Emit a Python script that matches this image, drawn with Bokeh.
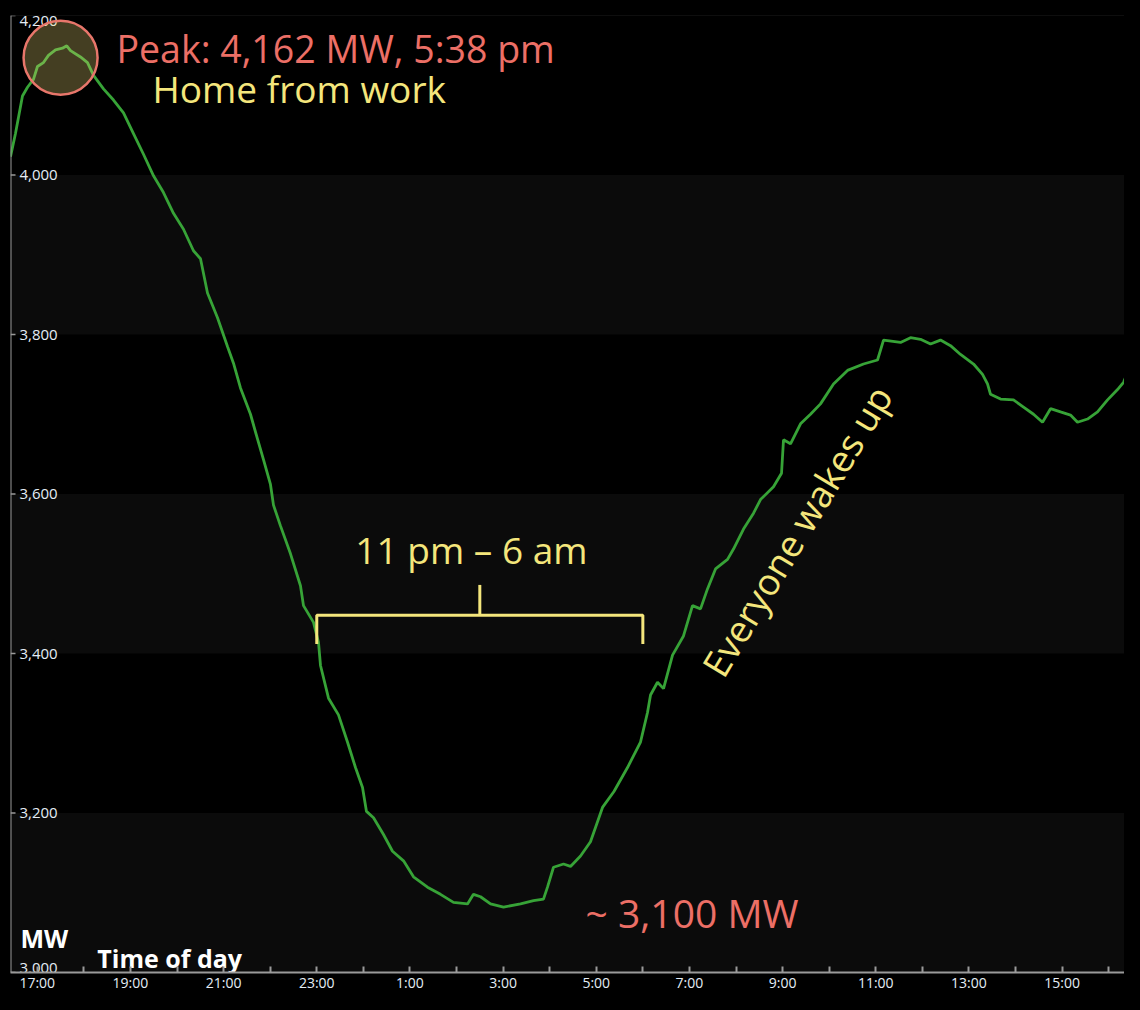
import re
from bokeh.plotting import figure
from bokeh.models import Range1d, FixedTicker, BoxAnnotation, Span
from bokeh.core.properties import value
from bokeh.embed import file_html
from bokeh.resources import INLINE

# ---- data (hours since 17:00, electricity demand in MW) ----
hours_since_17 = [-0.575, -0.468, -0.318, -0.210, -0.082, 0.004, 0.133, 0.240, 0.391, 0.541, 0.633, 0.713,
                  0.927, 1.078, 1.207, 1.421, 1.636, 1.851, 2.065, 2.280, 2.495, 2.709, 2.924, 3.139,
                  3.353, 3.504, 3.654, 3.869, 4.083, 4.212, 4.362, 4.577, 4.727, 4.856, 5.006, 5.071,
                  5.221, 5.436, 5.650, 5.715, 5.930, 6.037, 6.080, 6.252, 6.466, 6.659, 6.831, 6.982,
                  7.067, 7.218, 7.432, 7.626, 7.862, 8.076, 8.377, 8.656, 8.935, 9.236, 9.364, 9.515,
                  9.730, 10.009, 10.374, 10.653, 10.867, 10.953, 11.082, 11.297, 11.447, 11.662, 11.876, 12.027,
                  12.134, 12.380, 12.671, 12.950, 13.100, 13.165, 13.315, 13.444, 13.637, 13.873, 14.066, 14.238,
                  14.388, 14.560, 14.818, 14.946, 15.161, 15.376, 15.526, 15.805, 15.977, 16.020, 16.170, 16.385,
                  16.599, 16.814, 17.093, 17.394, 17.737, 18.038, 18.167, 18.532, 18.746, 18.961, 19.176, 19.390,
                  19.605, 19.820, 20.099, 20.292, 20.399, 20.464, 20.679, 20.957, 21.172, 21.387, 21.580, 21.752,
                  21.966, 22.181, 22.331, 22.546, 22.761, 22.976, 23.190, 23.319, 23.425]
load_mw = [4023, 4052, 4099, 4110, 4120, 4136, 4141, 4150, 4157, 4159, 4162, 4156,
           4148, 4141, 4125, 4108, 4094, 4078, 4052, 4026, 3999, 3978, 3952, 3932,
           3905, 3895, 3852, 3821, 3785, 3764, 3733, 3700, 3669, 3643, 3612, 3586,
           3560, 3525, 3485, 3460, 3439, 3414, 3385, 3344, 3323, 3289, 3257, 3232,
           3202, 3194, 3173, 3152, 3140, 3120, 3107, 3098, 3088, 3086, 3098, 3095,
           3086, 3082, 3086, 3090, 3092, 3107, 3132, 3136, 3133, 3146, 3164, 3189,
           3207, 3227, 3257, 3289, 3326, 3348, 3364, 3356, 3398, 3422, 3460, 3456,
           3481, 3506, 3518, 3531, 3556, 3576, 3593, 3609, 3626, 3668, 3663, 3688,
           3700, 3713, 3738, 3755, 3763, 3768, 3793, 3790, 3796, 3794, 3788, 3793,
           3786, 3775, 3763, 3750, 3738, 3725, 3719, 3718, 3709, 3700, 3690, 3707,
           3703, 3699, 3690, 3694, 3703, 3718, 3731, 3740, 3755]
assert len(hours_since_17) == len(load_mw)

x_tick_hours = [0, 2, 4, 6, 8, 10, 12, 14, 16, 18, 20, 22]
x_tick_labels = ["17:00", "19:00", "21:00", "23:00", "1:00", "3:00", "5:00",
                 "7:00", "9:00", "11:00", "13:00", "15:00"]
x_minor_hours = [1, 3, 5, 7, 9, 11, 13, 15, 17, 19, 21, 23]

y_tick_values = [3200, 3400, 3600, 3800, 4000]
y_tick_labels = ["3,200", "3,400", "3,600", "3,800", "4,000"]
y_bottom_value, y_bottom_label = 3000, "3,000"
y_top_value, y_top_label = 4200, "4,200"
band_starts = [3000, 3400, 3800]
band_height = 200

x_min, x_max = -0.575, 23.34
peak_hour, peak_mw = 0.50, 4147
night_start, night_end = 6, 13   # 23:00 .. 6:00

FONT = "Open Sans"
SALMON = "#ec6f66"
YELLOW = "#f4e67c"
GRAY = "#9a9a9a"
TICK_TEXT = "#e4edf6"

p = figure(width=1124, height=994, output_backend="svg", toolbar_location=None,
           x_range=Range1d(x_min, x_max), y_range=Range1d(3000, 4200),
           y_axis_location=None, min_border_left=10, min_border_right=0,
           min_border_top=15, min_border_bottom=0)
p.background_fill_color = "#000000"
p.border_fill_color = "#000000"
p.outline_line_color = None
p.xgrid.visible = False
p.ygrid.visible = False

# bands
for b in band_starts:
    p.add_layout(BoxAnnotation(bottom=b, top=b + band_height, fill_color="#0b0b0b",
                               fill_alpha=1.0, line_color=None, level="underlay"))
p.add_layout(Span(location=y_top_value, dimension="width", line_color="#1c1c1c", line_width=1))

# x axis
ax = p.xaxis[0]
ax.ticker = FixedTicker(ticks=x_tick_hours, minor_ticks=x_minor_hours)
ax.major_label_overrides = {h: lab for h, lab in zip(x_tick_hours, x_tick_labels)}
ax.axis_line_color = GRAY
ax.axis_line_width = 2
ax.major_tick_in = 6
ax.major_tick_out = 0
ax.minor_tick_in = 6
ax.minor_tick_out = 0
ax.major_tick_line_color = GRAY
ax.minor_tick_line_color = GRAY
ax.major_tick_line_width = 2
ax.minor_tick_line_width = 2
ax.major_label_standoff = 0
ax.major_label_text_color = TICK_TEXT
ax.major_label_text_font = FONT
ax.major_label_text_font_size = "14px"

# y axis drawn inside the frame
p.add_layout(Span(location=x_min, dimension="height", line_color=GRAY, line_width=2))
all_y_ticks = [y_bottom_value] + y_tick_values + [y_top_value]
p.ray(x=[x_min] * len(all_y_ticks), y=all_y_ticks, length=5, length_units="screen",
      angle=0, line_color=GRAY, line_width=1.5)
p.text(x=[x_min] * len(y_tick_values), y=y_tick_values, text=y_tick_labels, x_offset=9,
       text_baseline="middle", text_align="left", text_color=TICK_TEXT,
       text_font=value(FONT), text_font_size="15px")
p.text(x=[x_min], y=[y_bottom_value], text=[y_bottom_label], x_offset=9,
       text_baseline="bottom", text_align="left", text_color=TICK_TEXT,
       text_font=value(FONT), text_font_size="15px")
p.text(x=[x_min], y=[y_top_value], text=[y_top_label], x_offset=9,
       text_baseline="top", text_align="left", text_color=TICK_TEXT,
       text_font=value(FONT), text_font_size="15px")

# demand line
p.line(hours_since_17, load_mw, line_color="#37a337", line_width=2.8)

# peak circle
p.scatter(x=[peak_hour], y=[peak_mw], size=74, marker="circle",
          fill_color="#f5e07a", fill_alpha=0.28, line_color="#e8766b", line_width=2.5)

# bracket 11 pm - 6 am
mid = (night_start + night_end) / 2
p.line([night_start, night_start, night_end, night_end], [3412, 3448, 3448, 3412],
       line_color=YELLOW, line_width=3)
p.segment(x0=[mid], y0=[3448], x1=[mid], y1=[3486], line_color=YELLOW, line_width=3)

def lab(x, y, t, color, size, align="left", angle=0, style="normal"):
    p.text(x=[x], y=[y], text=[t], text_color=color, text_font=value(FONT),
           text_font_size=size, text_align=align, text_baseline="middle",
           angle=angle, text_font_style=style)

lab(1.70, 4159, "Peak: 4,162 MW, 5:38 pm", SALMON, "37.5px")
lab(2.475, 4108, "Home from work", YELLOW, "37px")
lab(mid - 0.18, 3531, "11 pm – 6 am", YELLOW, "37px", align="center")
lab(11.77, 3075, "~ 3,100 MW", SALMON, "39px")
lab(16.30, 3554, "Everyone wakes up", YELLOW, "37px", align="center", angle=1.03)
lab(-0.36, 3043, "MW", "#ffffff", "25px", style="bold")
lab(1.29, 3018, "Time of day", "#ffffff", "25px", style="bold")

html = file_html(p, INLINE)
html = html.replace("</head>", "<style>html,body{background-color:#000000;}</style></head>", 1)
html = re.sub(r"<body([^>]*)>", r'<body\1 style="background-color:#000000;">', html, count=1)
open("out.html", "w").write(html)
